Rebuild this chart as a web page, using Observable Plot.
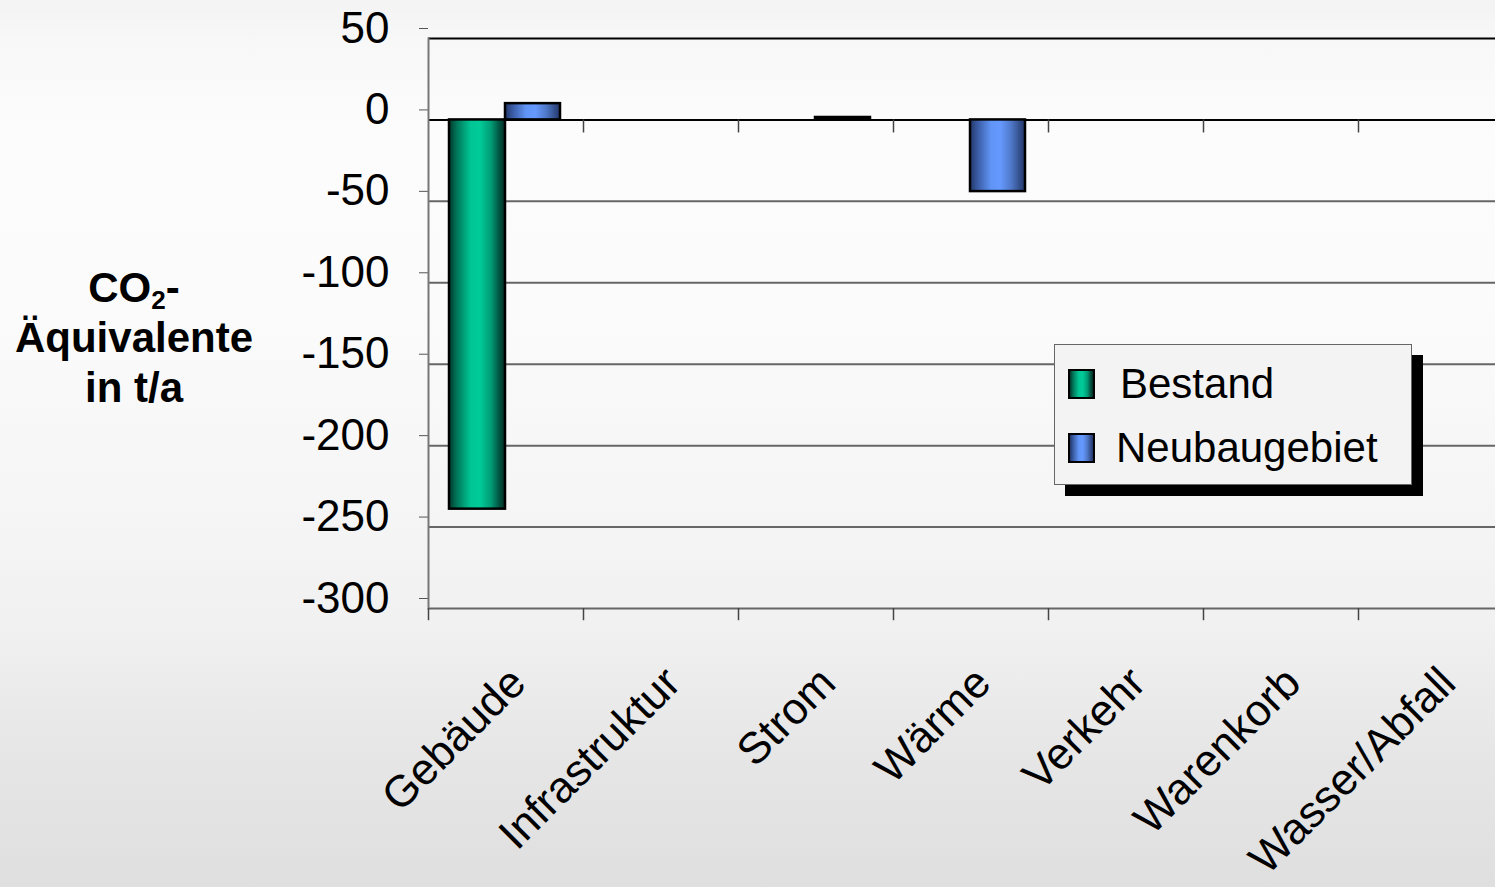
<!DOCTYPE html>
<html>
<head>
<meta charset="utf-8">
<script src="https://cdn.jsdelivr.net/npm/d3@7"></script>
<script src="https://cdn.jsdelivr.net/npm/@observablehq/plot@0.6"></script>
<style>
  html, body { margin: 0; padding: 0; overflow: hidden; }
  body {
    width: 1495px; height: 887px; position: relative;
    font-family: "Liberation Sans", Arial, sans-serif;
    background: linear-gradient(to bottom, #f3f3f3 0%, #f8f8f8 5%, #fcfcfc 15%, #fbfbfb 35%, #f6f6f6 55%, #f1f1f1 70%, #e6e6e6 85%, #dfdfdf 100%);
  }
  #chart { position: absolute; left: 0; top: 0; }
  #ylabel {
    position: absolute; left: 0; top: 263px; width: 268px;
    text-align: center; font-weight: bold; font-size: 42px; line-height: 50px; color: #000;
  }
  #ylabel sub { font-size: 0.62em; vertical-align: -0.28em; line-height: 0; }
  #legend {
    position: absolute; left: 1054px; top: 344px; width: 358px; height: 141px;
    box-sizing: border-box; border: 1.5px solid #666; background: #f3f3f3;
    box-shadow: 11px 11px 0 #000;
  }
  .sw { position: absolute; width: 27px; height: 30px; box-sizing: border-box; border: 2px solid #000; }
  .lt { position: absolute; font-size: 42px; line-height: 42px; color: #000; white-space: nowrap; }
</style>
</head>
<body>
<div id="chart"></div>
<div id="ylabel">CO<sub>2</sub>-<br>Äquivalente<br>in t/a</div>
<div id="legend"></div>
<script>
const categories = ["Gebäude", "Infrastruktur", "Strom", "Wärme", "Verkehr", "Warenkorb", "Wasser/Abfall"];
const seriesNames = ["Bestand", "Neubaugebiet"];
const bestand = [-239, 0, 0, 0, 0, 0, 0];
const neubaugebiet = [10, 0, 1.5, -44, 0, 0, 0];
const yTicks = [50, 0, -50, -100, -150, -200, -250, -300];

const gradStops = {
  Bestand: [["0%", "#00382a"], ["15%", "#007a5c"], ["38%", "#00c493"], ["55%", "#00cc99"], ["75%", "#009c76"], ["90%", "#005240"], ["100%", "#002e24"]],
  Neubaugebiet: [["0%", "#23386a"], ["15%", "#3c5ea8"], ["38%", "#6094f5"], ["55%", "#6699ff"], ["75%", "#4f78c8"], ["90%", "#34508c"], ["100%", "#23366a"]]
};
const gradId = {Bestand: "gradBestand", Neubaugebiet: "gradNeu"};

const rows = categories.flatMap((c, i) => [
  {category: c, series: "Bestand", value: bestand[i]},
  {category: c, series: "Neubaugebiet", value: neubaugebiet[i]}
]).filter(d => d.value !== 0);

const bandLeft = 428, bandStep = 155;

const plot = Plot.plot({
  width: 1495,
  height: 887,
  marginTop: 38,
  marginBottom: 279,
  marginLeft: 428,
  marginRight: 0,
  style: {background: "transparent", fontFamily: "Liberation Sans, Arial, sans-serif", color: "#000"},
  x: {domain: categories, range: [bandLeft, bandLeft + bandStep * categories.length], padding: 0, axis: null},
  y: {domain: [-300, 50], axis: null},
  marks: [
    Plot.gridY(yTicks.filter(d => d !== 0 && d !== 50), {stroke: "#666", strokeOpacity: 1, strokeWidth: 2}),
    Plot.ruleY([0, 50], {stroke: "#000", strokeWidth: 2}),
    Plot.axisY(yTicks, {tickSize: 9, tickPadding: 30, fontSize: 44, dy: -10, stroke: "#555", tickFormat: d => String(d), fill: "#000", label: null}),
    Plot.frame({anchor: "left", stroke: "#777", strokeWidth: 2}),
    Plot.ruleX(categories.slice(1), {x: d => d, dx: -bandStep / 2, y1: 0, y2: -8, stroke: "#444", strokeWidth: 1.5}),
    Plot.ruleX(categories, {x: d => d, dx: -bandStep / 2, y1: -300, y2: -307.5, stroke: "#444", strokeWidth: 1.5}),
    Plot.barY(rows.filter(d => d.series === "Bestand"), {
      x: "category", y: "value", fill: `url(#${gradId.Bestand})`, stroke: "#000", strokeWidth: 2.5,
      insetLeft: 21, insetRight: 78
    }),
    Plot.barY(rows.filter(d => d.series === "Neubaugebiet"), {
      x: "category", y: "value", fill: `url(#${gradId.Neubaugebiet})`, stroke: "#000", strokeWidth: 2.5,
      insetLeft: 77, insetRight: 23
    }),
    Plot.text(categories, {
      x: d => d, frameAnchor: "bottom", rotate: -45, textAnchor: "end", lineAnchor: "middle",
      fontSize: 44, dx: 12, dy: 67, fill: "#000"
    })
  ]
});

// gradient definitions
const svg = d3.select(plot);
const defs = svg.insert("defs", ":first-child");
for (const s of seriesNames) {
  const g = defs.append("linearGradient").attr("id", gradId[s]).attr("x1", 0).attr("x2", 1).attr("y1", 0).attr("y2", 0);
  for (const [o, c] of gradStops[s]) g.append("stop").attr("offset", o).attr("stop-color", c);
}
document.getElementById("chart").appendChild(plot);

// legend
const legend = document.getElementById("legend");
const legendLayout = [{sw: [13, 24], txt: [65, 18]}, {sw: [13, 88], txt: [61, 82]}];
seriesNames.forEach((s, i) => {
  const sw = document.createElement("div");
  sw.className = "sw";
  sw.style.left = legendLayout[i].sw[0] + "px";
  sw.style.top = legendLayout[i].sw[1] + "px";
  sw.style.background = "linear-gradient(to right, " + gradStops[s].map(([o, c]) => c + " " + o).join(", ") + ")";
  legend.appendChild(sw);
  const t = document.createElement("div");
  t.className = "lt";
  t.style.left = legendLayout[i].txt[0] + "px";
  t.style.top = legendLayout[i].txt[1] + "px";
  t.textContent = s;
  legend.appendChild(t);
});
</script>
</body>
</html>
